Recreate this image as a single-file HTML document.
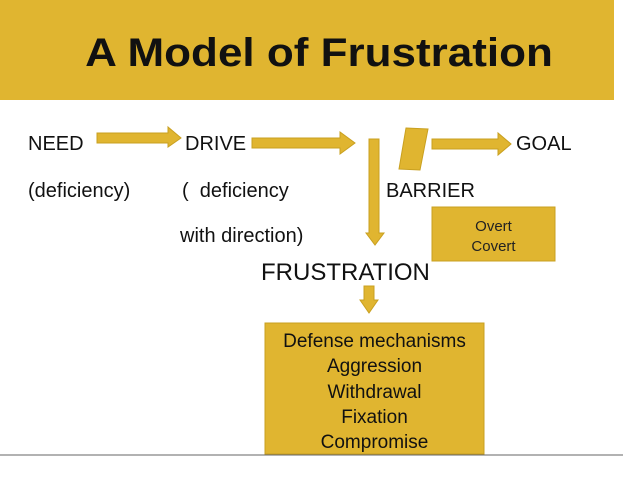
<html><body style="margin:0;width:638px;height:479px;background:#fff;position:relative;overflow:hidden;font-family:'Liberation Sans',sans-serif">
<div style="position:absolute;left:0;top:0;width:614px;height:100px;background:#E0B530"></div>
<div style="position:absolute;left:0;top:31px;width:638px;text-align:center;font-size:40px;font-weight:bold;color:#111;transform:scaleX(1.1)">A Model of Frustration</div>
<svg width="638" height="479" style="position:absolute;left:0;top:0">
<g fill="#E0B530" stroke="#C9A020" stroke-width="1">
<polygon points="97,133 168,133 168,127 181,138 168,147 168,143 97,143"/>
<polygon points="252,138 340,138 340,132 355,143 340,154 340,148 252,148"/>
<polygon points="369,139 379,139 379,233 384,233 375,245 366,233 369,233"/>
<polygon points="406,128 428,129 420,170 399,169"/>
<polygon points="432,139 498,139 498,133 511,144 498,155 498,149 432,149"/>
<polygon points="364,286 374,286 374,300 378,300 369,313 360,300 364,300"/>
<rect x="432" y="207" width="123" height="54"/>
<rect x="265" y="323" width="219" height="131"/>
</g>
<line x1="0" y1="455" x2="623" y2="455" stroke="#666" stroke-width="1"/>
</svg>
<div style="position:absolute;left:0;top:0;font-size:20px;color:#111;line-height:1">
<div style="position:absolute;left:28px;top:134px">NEED</div>
<div style="position:absolute;left:185px;top:134px">DRIVE</div>
<div style="position:absolute;left:516px;top:134px">GOAL</div>
<div style="position:absolute;left:28px;top:181px;white-space:nowrap">(deficiency)</div>
<div style="position:absolute;left:182px;top:181px;white-space:nowrap">(&nbsp; deficiency</div>
<div style="position:absolute;left:386px;top:181px">BARRIER</div>
<div style="position:absolute;left:180px;top:226px;white-space:nowrap">with direction)</div>
</div>
<div style="position:absolute;left:261px;top:259px;font-size:24px;color:#111;white-space:nowrap">FRUSTRATION</div>
<div style="position:absolute;left:432px;top:217px;width:123px;text-align:center;font-size:15px;line-height:20px;color:#222">Overt<br>Covert</div>
<div style="position:absolute;left:265px;top:329px;width:219px;text-align:center;font-size:19px;line-height:25.3px;color:#111">Defense mechanisms<br>Aggression<br>Withdrawal<br>Fixation<br>Compromise</div>
</body></html>
